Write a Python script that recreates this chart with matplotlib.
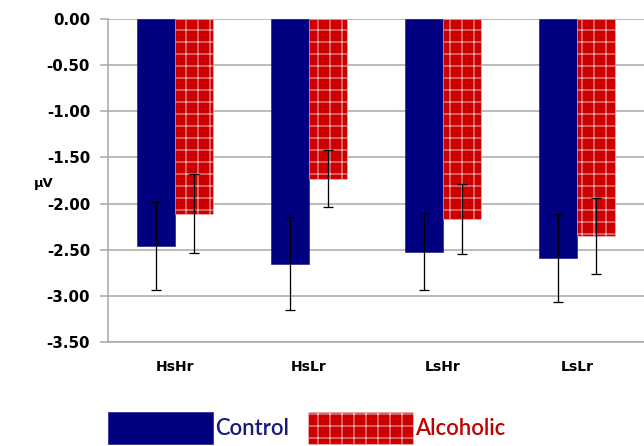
import matplotlib
matplotlib.use('Agg')
import matplotlib.pyplot as plt
import numpy as np

categories = ['HsHr', 'HsLr', 'LsHr', 'LsLr']
control = [-2.46, -2.65, -2.52, -2.59]
control_err = [0.48, 0.50, 0.42, 0.48]
alcoholic = [-2.11, -1.73, -2.17, -2.35]
alcoholic_err = [0.43, 0.31, 0.38, 0.41]
yticks = [0.0, -0.5, -1.0, -1.5, -2.0, -2.5, -3.0, -3.5]

plt.rcParams['hatch.linewidth'] = 0.9
plt.rcParams['hatch.color'] = '#f6bcbc'

# dpi 72 so one point == one pixel
fig = plt.figure(figsize=(644 / 72, 446 / 72), dpi=72)
ax = fig.add_axes([108 / 644, (446 - 342) / 446, 1 - 108 / 644, (342 - 19) / 446])

x = np.arange(len(categories))
w = 0.28
grid_c = '#a6a6a6'

ax.bar(x - w / 2, control, w, color='#000080', edgecolor='#000080', linewidth=0.5,
       label='Control', zorder=2)
ax.bar(x + w / 2, alcoholic, w, color='#cc0000', edgecolor='#f0d0d0', linewidth=0.5,
       hatch='+', label='Alcoholic', zorder=2)
ax.errorbar(x - w / 2, control, yerr=control_err, fmt='none', ecolor='black',
            elinewidth=1.3, capsize=5, capthick=1.3, zorder=3)
ax.errorbar(x + w / 2, alcoholic, yerr=alcoholic_err, fmt='none', ecolor='black',
            elinewidth=1.3, capsize=5, capthick=1.3, zorder=3)

ax.set_xlim(-0.5, 3.5)
ax.set_ylim(-3.5, 0)
ax.set_yticks(yticks)
ax.set_yticklabels(['%.2f' % v for v in yticks], fontsize=15, fontweight='bold')
ax.set_xticks(x)
ax.set_xticklabels(categories, fontsize=14, fontweight='bold')
ax.tick_params(axis='x', length=0, pad=18)
ax.tick_params(axis='y', length=8, width=1.5, color=grid_c, pad=10)

ax.grid(axis='y', color=grid_c, linewidth=1.5)
ax.set_axisbelow(True)
for s in ['top', 'right']:
    ax.spines[s].set_visible(False)
ax.spines['left'].set_color(grid_c)
ax.spines['left'].set_linewidth(1.5)
ax.spines['bottom'].set_color(grid_c)
ax.spines['bottom'].set_linewidth(1.5)

ax.set_ylabel('µV', rotation=0, fontsize=13, fontweight='bold')
ax.yaxis.set_label_coords(-0.12, 0.47)

leg = fig.legend(loc='lower left', bbox_to_anchor=(108 / 644, 0.004), ncol=2,
                 frameon=False, handlelength=4.75, handleheight=1.9,
                 handletextpad=0.1, columnspacing=0.9, borderpad=0, borderaxespad=0,
                 prop={'family': 'Lato', 'size': 22, 'weight': 'semibold'})
leg.get_texts()[0].set_color('#1a1a7a')
leg.get_texts()[1].set_color('#c00000')

fig.savefig('out.png', dpi=72)
